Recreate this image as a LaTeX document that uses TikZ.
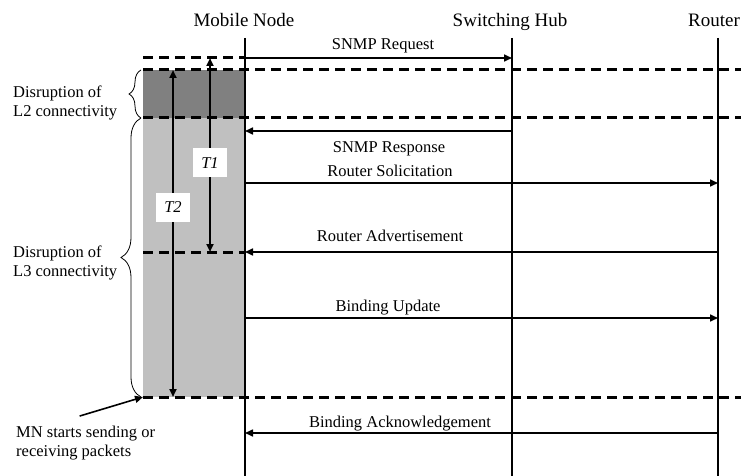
\documentclass[tikz,border=0pt]{standalone}
\usepackage{fontspec}
\setmainfont{Liberation Serif}
\usetikzlibrary{positioning, arrows.meta, decorations.pathreplacing}
\definecolor{ltwo}{HTML}{808080}
\definecolor{lthree}{HTML}{C0C0C0}

\begin{document}
\begin{tikzpicture}[x=1pt, y=-1pt,
        lifeline/.style={line width=2.2pt},
        message/.style={line width=1.6pt, -{Triangle[length=8pt, width=7pt]}},
        phase/.style={line width=3pt, dash pattern=on 10pt off 6pt},
        interval/.style={line width=2pt, {Triangle[length=8pt, width=7pt]}-{Triangle[length=8pt, width=7pt]}},
        tbox/.style={fill=white, inner sep=0pt, minimum width=34pt, minimum height=29pt, font=\fontsize{16.5}{19}\selectfont\itshape},
        head/.style={font=\fontsize{19}{22}\selectfont, anchor=base, inner sep=0pt},
        msgtext/.style={font=\fontsize{16.5}{19}\selectfont, anchor=base, inner sep=0pt},
        note/.style={font=\fontsize{16.5}{18.5}\selectfont, align=left, anchor=west, inner sep=0pt},
        brc/.style={decorate, line width=0.8pt}]
    \useasboundingbox (0,0) rectangle (741,476);

    % disrupted periods
    \fill[ltwo] (143,70) rectangle (245,118);
    \fill[lthree] (143,118) rectangle (245,397);

    % entities and lifelines
    \node[head] (mn) at (244,27) {Mobile Node};
    \node[head] (sh) at (510,27) {Switching Hub};
    \node[head] (rt) at (714,27) {Router};
    \coordinate (edge) at (741,0);
    \foreach \n/\x in {mn/245, sh/512, rt/718} {
        \coordinate (\n-top) at (\x,38);
        \coordinate (\n-bot) at (\x,476);
        \draw[lifeline] (\n-top) -- (\n-bot);
    }

    % phase boundaries
    \foreach \y/\to in {58/mn-top, 70/edge, 118/edge, 252/mn-top, 397/edge} {
        \coordinate (b\y) at (143,\y);
        \draw[phase] (b\y) -- (\to |- b\y);
    }

    % messages
    \foreach \y/\a/\b/\x/\ly/\txt [count=\i] in {
            58/mn/sh/383/50/SNMP Request,
            131/sh/mn/389/153/SNMP Response,
            183/mn/rt/390/176/Router Solicitation,
            252/rt/mn/390/241/Router Advertisement,
            318/mn/rt/388/311/Binding Update,
            433/rt/mn/400/427/Binding Acknowledgement} {
        \coordinate (y\i) at (0,\y);
        \draw[message] (\a-top |- y\i) -- (\b-top |- y\i);
        \node[msgtext] (m\i) at (\x,\ly) {\txt};
    }

    % handover times
    \draw[interval] ([xshift=67pt]b58) -- ([xshift=67pt]b252) node[tbox, pos=0.54] (t1) {T1};
    \draw[interval] ([xshift=30pt]b70) -- ([xshift=30pt]b397) node[tbox, pos=0.42] (t2) {T2};

    % disruption braces
    \draw[brc, decoration={brace, amplitude=12pt}] (141,118) -- (141,70);
    \node[note] (l2) at (13,103) {Disruption of\\L2 connectivity};
    \draw[brc, decoration={brace, amplitude=20pt}] (141,397) -- (141,118);
    \node[note] (l3) at (13,263) {Disruption of\\L3 connectivity};

    \node[note] (start) at (16,443) {MN starts sending or\\receiving packets};
    \draw[message] ([shift={(-6,-10)}]start.north) -- (b397);
\end{tikzpicture}
\end{document}
